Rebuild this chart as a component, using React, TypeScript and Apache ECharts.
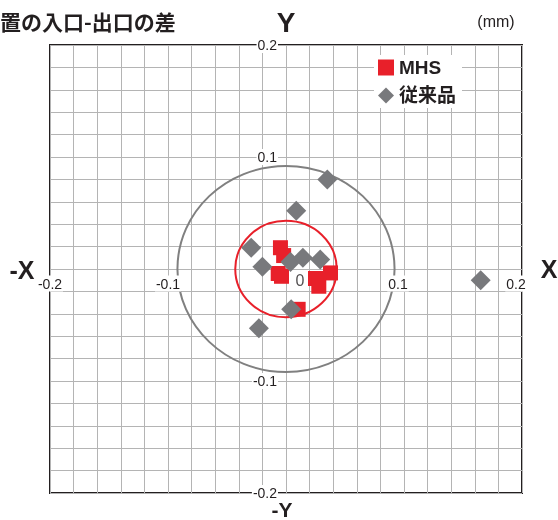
import React, { useEffect, useRef } from "react";
import * as echarts from "echarts";

const mhsX = [-0.0047, -0.002, -0.0066, -0.0038, 0.0377, 0.025, 0.0278, 0.0103];
const mhsY = [0.019, 0.012, -0.004, -0.0065, -0.0035, -0.0085, -0.0154, -0.036];
const convX = [0.035, 0.0087, -0.0295, -0.02, 0.0038, 0.0143, 0.029, 0.0044, -0.023, 0.165];
const convY = [0.08, 0.052, 0.019, 0.002, 0.0063, 0.01, 0.0084, -0.036, -0.053, -0.01];
const circleRadii = [0.092, 0.043];
const tickLabels = [-0.2, -0.1, 0.1, 0.2];
const seriesNames = ["MHS", "従来品"];

const RED = "#e8202a";
const GRAY = "#78797c";
const DARK = "#231f20";
const FONT = "'Liberation Sans', Arial, sans-serif";
const CJK = "'Noto Sans CJK JP', sans-serif";

const GRID_LEFT = 50;
const GRID_TOP = 45;
const GRID_W = 472;
const GRID_H = 448;

export default function App() {
  const ref = useRef<HTMLDivElement>(null);
  useEffect(() => {
    const chart = echarts.init(ref.current!, null, { renderer: "svg" });
    const isTick = (v: number) => tickLabels.some((t) => Math.abs(t - v) < 1e-9);
    const txt = (v: number) => String(Math.round(v * 10) / 10);
    const xLabelFmt = (v: number) => (isTick(v) ? `{b|${txt(v)}}` + (v > 0 ? "{s| }" : "") : "");
    const yLabelFmt = (v: number) => (isTick(v) ? `{b|${txt(v)}}` : "");
    const rich = {
      b: { backgroundColor: "#fff", fontSize: 14, color: DARK, fontFamily: FONT, padding: [1, 1] },
      s: { width: 12, fontSize: 14, fontFamily: FONT },
    };
    const option: any = {
      animation: false,
      grid: { left: GRID_LEFT, top: GRID_TOP, width: GRID_W, height: GRID_H, show: true, borderColor: DARK, borderWidth: 2, backgroundColor: "transparent" },
      xAxis: [
        {
          type: "value", min: -0.2, max: 0.2, interval: 0.02,
          axisLine: { show: false, onZero: false }, axisTick: { show: false }, axisLabel: { show: false },
          splitLine: { show: true, lineStyle: { color: "#b4b4b4", width: 1 } },
        },
        {
          type: "value", min: -0.2, max: 0.2, interval: 0.1, z: 10, position: "bottom",
          offset: -GRID_H / 2 + 0.5,
          axisLine: { show: false, onZero: false }, axisTick: { show: false },
          splitLine: { show: false },
          axisLabel: { formatter: xLabelFmt, rich, margin: 6 },
        },
      ],
      yAxis: [
        {
          type: "value", min: -0.2, max: 0.2, interval: 0.02,
          axisLine: { show: false, onZero: false }, axisTick: { show: false }, axisLabel: { show: false },
          splitLine: { show: true, lineStyle: { color: "#b4b4b4", width: 1 } },
        },
        {
          type: "value", min: -0.2, max: 0.2, interval: 0.1, z: 10, position: "left",
          offset: -GRID_W / 2,
          axisLine: { show: false, onZero: false }, axisTick: { show: false },
          splitLine: { show: false },
          axisLabel: { formatter: yLabelFmt, rich, margin: 8 },
        },
      ],
      legend: {
        data: [
          { name: seriesNames[0], icon: "rect" },
          { name: seriesNames[1], icon: "diamond" },
        ],
        orient: "vertical", left: 374, top: 55, itemWidth: 16, itemHeight: 16, itemGap: 9,
        backgroundColor: "#fff", padding: [3, 6, 3, 4],
        textStyle: { fontSize: 19, fontWeight: "bold", color: DARK, fontFamily: `${FONT.split(",")[0]}, ${CJK}` },
      },
      graphic: [
        { type: "text", left: 0, top: 10, style: { text: "置の入口-出口の差", font: `bold 21px ${CJK}`, fill: DARK } },
        { type: "text", x: 286, y: 22, style: { text: "Y", font: `bold 28px ${FONT}`, fill: DARK, align: "center", verticalAlign: "middle" } },
        { type: "text", x: 496, y: 21, style: { text: "(mm)", font: `16px ${FONT}`, fill: DARK, align: "center", verticalAlign: "middle" } },
        { type: "text", x: 22, y: 270, style: { text: "-X", font: `bold 25px ${FONT}`, fill: DARK, align: "center", verticalAlign: "middle" } },
        { type: "text", x: 549, y: 269, style: { text: "X", font: `bold 25px ${FONT}`, fill: DARK, align: "center", verticalAlign: "middle" } },
        { type: "text", x: 282, y: 509, style: { text: "-Y", font: `bold 21px ${FONT}`, fill: DARK, align: "center", verticalAlign: "middle" } },
      ],
      series: [
        {
          type: "custom", silent: true, z: 3,
          data: circleRadii.map((r, i) => [0, 0, r, i]),
          renderItem: (params: any, api: any) => {
            const c = api.coord([api.value(0), api.value(1)]);
            const r = api.value(2);
            const px = api.coord([r, 0])[0] - c[0];
            const py = c[1] - api.coord([0, r])[1];
            return {
              type: "ellipse",
              shape: { cx: c[0], cy: c[1], rx: px, ry: py },
              style: { fill: "none", stroke: api.value(3) === 0 ? "#808080" : RED, lineWidth: 2 },
            };
          },
        },
        {
          name: seriesNames[0], type: "scatter", symbol: "rect", symbolSize: 15, z: 4,
          itemStyle: { color: RED, opacity: 1 },
          data: mhsX.map((x, i) => [x, mhsY[i]]),
        },
        {
          name: seriesNames[1], type: "scatter", symbol: "diamond", symbolSize: 20, z: 5,
          itemStyle: { color: GRAY, opacity: 1 },
          data: convX.map((x, i) => [x, convY[i]]),
        },
        {
          type: "scatter", silent: true, symbolSize: 0, z: 6,
          data: [[0, 0]],
          label: { show: true, formatter: "0", position: "inside", offset: [14, 11], fontSize: 16, color: DARK, fontFamily: FONT },
        },
      ],
    };
    chart.setOption(option);
    return () => chart.dispose();
  }, []);
  return <div ref={ref} style={{ position: "fixed", left: 0, top: 0, width: 558, height: 520 }} />;
}
